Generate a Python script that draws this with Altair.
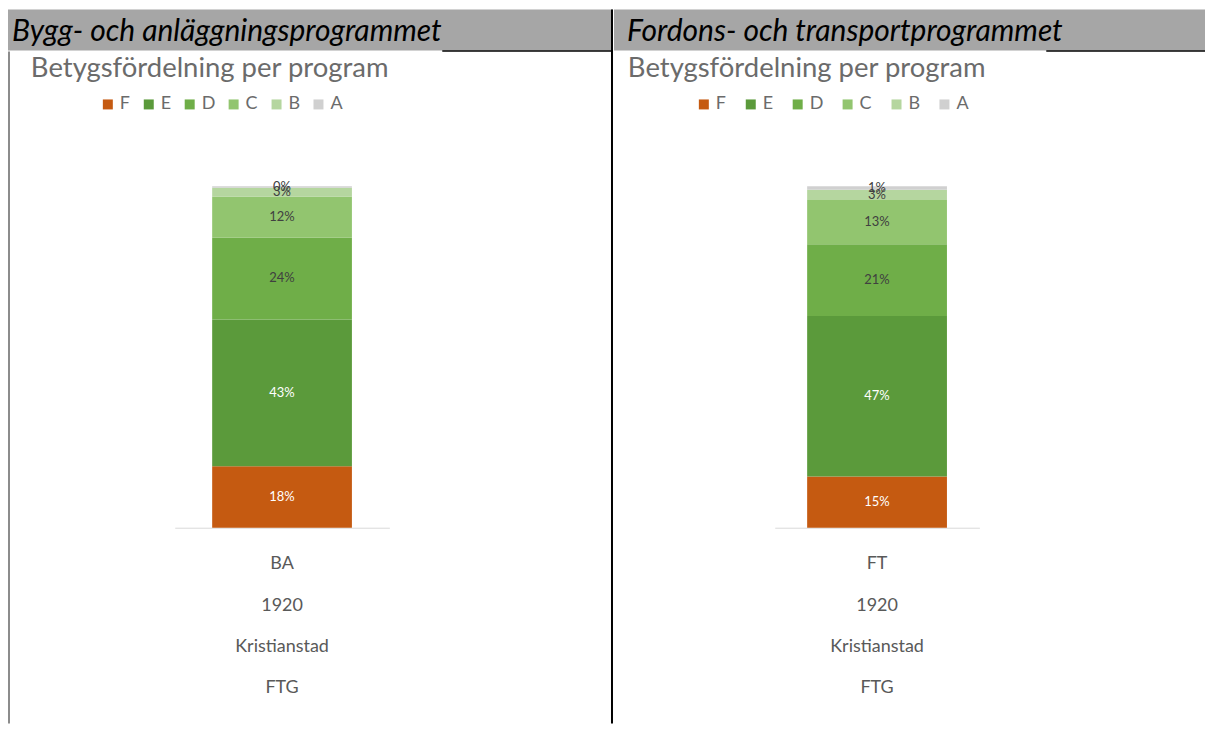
import altair as alt
import pandas as pd

# ---- data ----
grades = ["F", "E", "D", "C", "B", "A"]
grade_colors = ["#c55a11", "#5b9a3b", "#6fae48", "#92c56f", "#b5d69f", "#d0d0d0"]

program_names = ["Bygg- och anläggningsprogrammet", "Fordons- och transportprogrammet"]
program_codes = ["BA", "FT"]
year_label = "1920"
city_label = "Kristianstad"
school_label = "FTG"
chart_title = "Betygsfördelning per program"

ba_shares = [18, 43, 24, 12, 2.6, 0.4]   # percent, F..A
ft_shares = [15, 47, 21, 13, 3, 1]       # percent, F..A

H = 715


def make_frame(code, shares):
    cat = "|".join([code, year_label, city_label, school_label])
    rows = []
    cum = 0.0
    for i, (g, s) in enumerate(zip(grades, shares)):
        rows.append({
            "cat": cat, "grade": g, "ord": i, "share": s,
            "y0": cum, "y1": cum + s, "mid": cum + s / 2,
            "label": f"{round(s)}%",
        })
        cum += s
    return pd.DataFrame(rows)


def panel(df, name, W, cfg, extra):
    one = alt.Data(values=[{}])
    band = alt.Chart(one).mark_rect(color="#a6a6a6").encode(
        x=alt.value(0), x2=alt.value(W), y=alt.value(0), y2=alt.value(41))
    hline = alt.Chart(one).mark_rule(color="#000000", strokeWidth=1.5).encode(
        x=alt.value(cfg["line_x0"]), x2=alt.value(W), y=alt.value(41.5))
    header = alt.Chart(one).mark_text(
        text=name, font="Lato", fontStyle="italic", fontSize=30, color="#000000",
        align="left", baseline="alphabetic").encode(
        x=alt.value(cfg["hx"]), y=alt.value(31))
    title = alt.Chart(one).mark_text(
        text=chart_title, font="Lato", fontSize=27.5, color="#6b6b6b",
        align="center", baseline="middle").encode(
        x=alt.value(cfg["tx"]), y=alt.value(60))

    xscale = alt.Scale(range=cfg["xr"], paddingInner=0, paddingOuter=cfg["po"])
    yscale = alt.Scale(domain=[0, 100], range=[519, 177], nice=False)

    bars = alt.Chart(df).mark_bar().encode(
        x=alt.X("cat:N", scale=xscale, axis=alt.Axis(
            title=None, ticks=False, tickSize=0, grid=False,
            domainColor="#d9d9d9", domainWidth=1, offset=-196,
            labelAngle=0, labelExpr="split(datum.label, '|')",
            labelFont="Lato", labelFontSize=18, labelColor="#595959",
            labelPadding=27, labelLineHeight=41.5, labelBaseline="top")),
        y=alt.Y("y0:Q", scale=yscale, axis=None),
        y2="y1:Q",
        color=alt.Color("grade:N", scale=alt.Scale(domain=grades, range=grade_colors),
                        legend=alt.Legend(
                            title=None, orient="none", legendX=cfg["lx"], legendY=86,
                            direction="horizontal", symbolType="square", symbolSize=100,
                            symbolStrokeWidth=0, labelFont="Lato", labelFontSize=18,
                            labelColor="#6b6b6b", columnPadding=cfg["cp"], labelOffset=3,
                            padding=0)),
    )
    labels = alt.Chart(df).mark_text(font="Lato", fontSize=13).encode(
        x=alt.X("cat:N"),
        y=alt.Y("mid:Q"),
        text="label:N",
        color=alt.condition("datum.grade == 'F' || datum.grade == 'E'",
                            alt.value("#ffffff"), alt.value("#404040")),
    )
    return alt.layer(band, hline, header, title, bars, labels, *extra).properties(
        width=W, height=H)


one = alt.Data(values=[{}])
divider = alt.Chart(one).mark_rule(color="#000000", strokeWidth=2).encode(
    x=alt.value(605), y=alt.value(0), y2=alt.value(H))
left_border = alt.Chart(one).mark_rule(color="#8c8c8c", strokeWidth=2).encode(
    x=alt.value(1), y=alt.value(42), y2=alt.value(H))

left = panel(make_frame(program_codes[0], ba_shares), program_names[0], 606,
             {"line_x0": 435, "hx": 4, "tx": 202, "xr": [167, 382], "po": 0.268,
              "lx": 91, "cp": 9},
             [divider, left_border])
right = panel(make_frame(program_codes[1], ft_shares), program_names[1], 592,
              {"line_x0": 433, "hx": 13, "tx": 193, "xr": [161, 366], "po": 0.232,
               "lx": 81, "cp": 15},
              [])

chart = alt.hconcat(left, right, spacing=0).resolve_scale(
    x="independent", y="independent", color="independent"
).properties(padding=0, background="#ffffff").configure_view(stroke=None)

chart.save("out.html", embed_options={"renderer": "svg", "actions": False})
